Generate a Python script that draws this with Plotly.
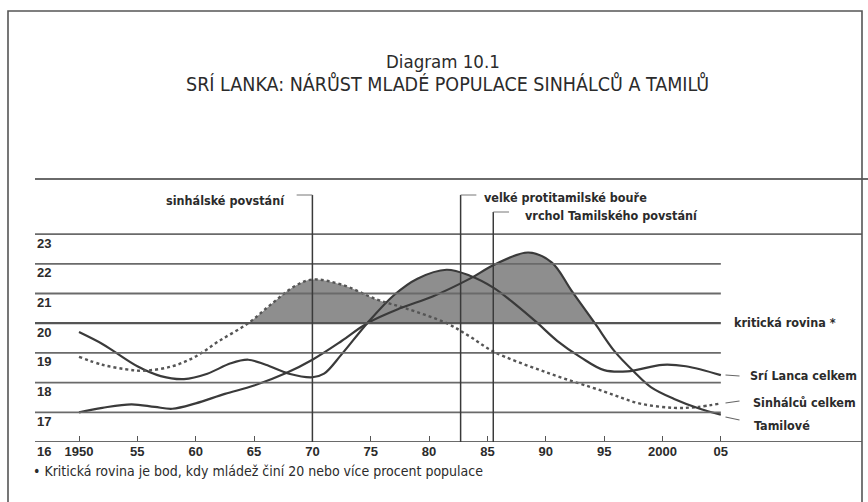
import plotly.graph_objects as go

# ---------------- data ----------------
years_sl = [1950, 1952, 1953, 1955, 1957, 1959, 1961, 1963, 1964.5, 1966, 1968, 1970, 1971,
            1972.5, 1974.7, 1977, 1979, 1981.5, 1983.5, 1985.5, 1987.5, 1989.3, 1991, 1993,
            1995, 1997, 2000, 2002, 2005]
sri_lanka = [19.70, 19.3, 19.05, 18.55, 18.22, 18.12, 18.3, 18.65, 18.77, 18.6, 18.3, 18.18, 18.3,
             18.95, 20.0, 20.95, 21.5, 21.8, 21.6, 21.2, 20.6, 20.0, 19.4, 18.85,
             18.42, 18.38, 18.6, 18.55, 18.25]

years_si = [1950, 1952, 1954, 1955.5, 1958, 1960, 1962, 1964.5, 1966.5, 1968.5, 1970, 1972.5,
            1975.5, 1978, 1981.5, 1983.5, 1985.5, 1990, 1995, 1998, 2001, 2003, 2005]
sinhalci = [18.87, 18.6, 18.45, 18.4, 18.55, 18.88, 19.4, 20.0, 20.65, 21.25, 21.47, 21.3,
            20.8, 20.5, 20.0, 19.55, 19.05, 18.35, 17.7, 17.3, 17.15, 17.18, 17.3]

years_ta = [1950, 1952, 1954.5, 1956.5, 1958, 1960, 1962.5, 1965, 1967.8, 1970, 1972.5, 1974.7,
            1977.5, 1980.3, 1983.5, 1985.5, 1988.5, 1990.5, 1992.2, 1994.2, 1995.9, 1997.6,
            1999, 2001, 2003.2, 2005]
tamilove = [17.0, 17.15, 17.27, 17.18, 17.12, 17.3, 17.62, 17.9, 18.33, 18.77, 19.4, 20.0,
            20.5, 20.9, 21.5, 21.95, 22.38, 22.05, 21.1, 20.0, 19.05, 18.35,
            17.85, 17.45, 17.12, 16.92]

series_names = ["Srí Lanca celkem", "Sinhálců celkem", "Tamilové"]

y_ticks = [16, 17, 18, 19, 20, 21, 22, 23]
y_tick_labels = ["16", "17", "18", "19", "20", "21", "22", "23"]
x_ticks = [1950, 1955, 1960, 1965, 1970, 1975, 1980, 1985, 1990, 1995, 2000, 2005]
x_tick_labels = ["1950", "55", "60", "65", "70", "75", "80", "85", "90", "95", "2000", "05"]

critical_level = 20
critical_label = "kritická rovina"

event_labels = ["sinhálské povstání", "velké protitamilské bouře", "vrchol Tamilského povstání"]
event_years = [1970, 1982.7, 1985.5]

title_1 = "Diagram 10.1"
title_2 = "SRÍ LANKA: NÁRŮST MLADÉ POPULACE SINHÁLCŮ A TAMILŮ"
footnote = "• Kritická rovina je bod, kdy mládež činí 20 nebo více procent populace"

# ---------------- layout geometry ----------------
W, H = 868, 502
ML, MR, MT, MB = 35, 6, 160, 60
PW, PH = W - ML - MR, H - MT - MB
PX_YR = 11.67
X0 = 1950 - (79 - ML) / PX_YR
X1 = X0 + PW / PX_YR
PX_UNIT = 29.7
Y0 = 16
Y1 = Y0 + PH / PX_UNIT


def px_x(px):
    return (px - ML) / PW


def px_y(py):
    return (H - MB - py) / PH


def val(py):
    return Y0 + (H - MB - py) / PX_UNIT


INK = "#2b2b2b"
LINE = "#3a3a3a"
GRID = "#6a6a6a"
SHADE = "#8e8e8e"
NARROW = "DejaVu Sans Condensed, Liberation Sans Narrow, Arial Narrow, sans-serif"
SANS = "Liberation Sans, Arial, Helvetica, sans-serif"
LBL = 12.5

fig = go.Figure()

# shaded areas above the critical level (filled, then masked below 20)
for xs, ys in [(years_sl, sri_lanka), (years_si, sinhalci), (years_ta, tamilove)]:
    fig.add_trace(go.Scatter(x=xs, y=ys, mode="lines", line=dict(width=0, shape="spline", smoothing=1.0),
                             fill="tozeroy", fillcolor=SHADE, hoverinfo="skip", showlegend=False))
fig.add_trace(go.Scatter(x=[X0, X1, X1, X0, X0], y=[0, 0, critical_level, critical_level, 0],
                         mode="lines", line=dict(width=0), fill="toself", fillcolor="white",
                         hoverinfo="skip", showlegend=False))

# curves
fig.add_trace(go.Scatter(x=years_sl, y=sri_lanka, name=series_names[0], mode="lines",
                         line=dict(color=LINE, width=2.2, shape="spline", smoothing=1.0), showlegend=False))
fig.add_trace(go.Scatter(x=years_si, y=sinhalci, name=series_names[1], mode="lines",
                         line=dict(color="#555555", width=2.4, dash="dot", shape="spline", smoothing=1.0),
                         showlegend=False))
fig.add_trace(go.Scatter(x=years_ta, y=tamilove, name=series_names[2], mode="lines",
                         line=dict(color=LINE, width=2.2, shape="spline", smoothing=1.0), showlegend=False))

shapes = []
# horizontal rules
for v in y_ticks:
    full = v in (16, 23)
    shapes.append(dict(type="line", xref="x" if not full else "paper", yref="y",
                       x0=X0 if not full else 0, x1=2005 if not full else 1.0, y0=v, y1=v,
                       line=dict(color=GRID if v != critical_level else "#555555",
                                 width=1.8 if v != critical_level else 2.2),
                       layer="above"))
shapes.append(dict(type="line", xref="paper", yref="paper", x0=0, x1=1.01, y0=px_y(179), y1=px_y(179),
                   line=dict(color=GRID, width=1.8), layer="above"))

# event markers
event_tops = [val(195), val(195), val(212)]
event_side = [-1, 1, 1]
for yr, top, side in zip(event_years, event_tops, event_side):
    shapes.append(dict(type="line", xref="x", yref="y", x0=yr, x1=yr, y0=Y0, y1=top,
                       line=dict(color=LINE, width=1.5), layer="above"))
    shapes.append(dict(type="line", xref="x", yref="y", x0=yr, x1=yr + side * 1.35, y0=top, y1=top,
                       line=dict(color="#777777", width=1), layer="above"))

# end-label dashes
dash_y = [(val(375), val(376)), (val(403), val(401)), (val(417), val(420))]
for (a, b) in dash_y:
    shapes.append(dict(type="line", xref="x", yref="y", x0=2005.4, x1=2006.6, y0=a, y1=b,
                       line=dict(color="#666666", width=1.2), layer="above"))

# frame
shapes.append(dict(type="rect", xref="paper", yref="paper", x0=px_x(8), x1=px_x(862),
                   y0=px_y(530), y1=px_y(11), line=dict(color="#555555", width=1.6), layer="above"))

annotations = []
# titles
annotations.append(dict(text=title_1, xref="paper", yref="paper", x=px_x(443), y=px_y(61),
                        showarrow=False, xanchor="center", yanchor="middle",
                        font=dict(family=NARROW, size=18.5, color=INK)))
annotations.append(dict(text=title_2, xref="paper", yref="paper", x=px_x(447), y=px_y(84),
                        showarrow=False, xanchor="center", yanchor="middle",
                        font=dict(family=NARROW, size=19.5, color=INK)))
# y labels (below their rules)
for v, t in zip(y_ticks, y_tick_labels):
    annotations.append(dict(text=t, xref="paper", yref="y", x=0, y=v, yshift=-9,
                            showarrow=False, xanchor="left", yanchor="middle",
                            font=dict(family=SANS, size=13, color=INK, weight="bold")))
# event labels
ev_shift = [-25, 21, 30]
ev_yshift = [-5, -2, -3]
for t, yr, top, xs, ys, side in zip(event_labels, event_years, event_tops, ev_shift, ev_yshift, event_side):
    annotations.append(dict(text=t, xref="x", yref="y", x=yr, y=top, xshift=xs, yshift=ys,
                            showarrow=False, xanchor="right" if side < 0 else "left", yanchor="middle",
                            font=dict(family=NARROW, size=LBL, color=INK, weight="bold")))
# critical label
annotations.append(dict(text=critical_label + " *", xref="paper", yref="y", x=px_x(732),
                        y=critical_level, yshift=1, showarrow=False, xanchor="left", yanchor="middle",
                        font=dict(family=NARROW, size=LBL, color=INK, weight="bold")))
# series end labels
end_label_py = [375, 402, 425]
end_label_px = [748, 751, 752]
for t, px, py in zip(series_names, end_label_px, end_label_py):
    annotations.append(dict(text=t, xref="paper", yref="paper", x=px_x(px), y=px_y(py),
                            showarrow=False, xanchor="left", yanchor="middle",
                            font=dict(family=NARROW, size=LBL, color=INK, weight="bold")))
# footnote
annotations.append(dict(text=footnote, xref="paper", yref="paper", x=px_x(31), y=px_y(471),
                        showarrow=False, xanchor="left", yanchor="middle",
                        font=dict(family=NARROW, size=14, color=INK)))

fig.update_layout(
    width=W, height=H, autosize=False,
    margin=dict(l=ML, r=MR, t=MT, b=MB, pad=0),
    paper_bgcolor="white", plot_bgcolor="white",
    showlegend=False, hovermode=False,
    shapes=shapes, annotations=annotations,
    xaxis=dict(range=[X0, X1], tickmode="array", tickvals=x_ticks, ticktext=x_tick_labels,
               ticks="inside", ticklen=6, tickwidth=1.3, tickcolor="#555555",
               showgrid=False, zeroline=False, showline=False, fixedrange=True,
               tickfont=dict(family=SANS, size=13, color=INK, weight="bold")),
    yaxis=dict(range=[Y0, Y1], showgrid=False, zeroline=False, showline=False, fixedrange=True,
               showticklabels=False, ticks=""),
)

fig.write_html("out.html", config={"displayModeBar": False},
               post_script="document.body.style.margin='0px';")
